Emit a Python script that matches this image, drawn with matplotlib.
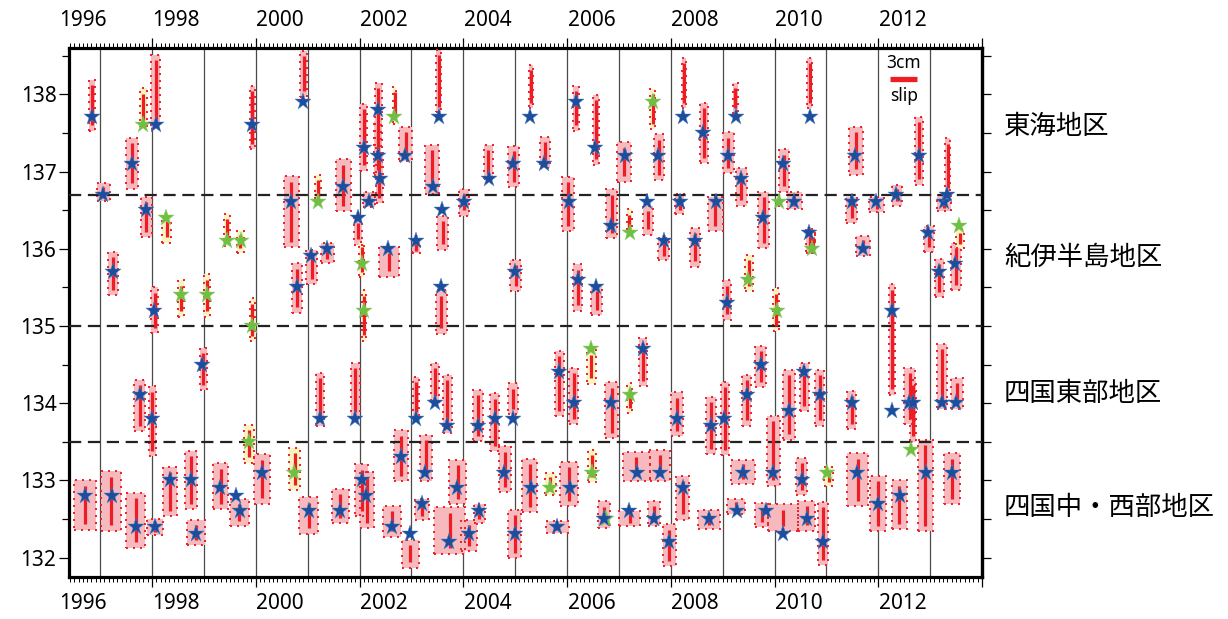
import numpy as np
import matplotlib
matplotlib.use("Agg")
import matplotlib.pyplot as plt
from matplotlib.patches import Rectangle
from matplotlib.ticker import MultipleLocator, NullFormatter

# ================== data ==================
# star: time (year), longitude, kind (b = blue, g = green)
ev_t = [1996.85, 1997.06, 1997.25, 1997.62, 1997.82, 1998.07, 1997.89, 1998.26, 1998.04, 1998.55,
        1999.06, 1998.97, 1997.76, 1998.00, 1996.70, 1997.22, 1997.69, 1998.05, 1998.34, 1998.75,
        1998.85, 1999.31, 1999.62, 1999.70, 1999.87, 1999.93, 1999.93, 2000.12, 2000.92, 2000.68,
        2000.79, 2001.06, 2001.37, 2001.20, 2001.69, 2001.23, 2001.92, 2000.74, 2001.02, 2001.63,
        2002.04, 2002.13, 2002.09, 2002.36, 2002.35, 2002.40, 2002.19, 2001.97, 2002.04, 2002.08,
        2002.55, 2002.67, 2002.88, 2003.09, 2003.42, 2003.53, 2003.59, 2003.58, 2004.01, 2004.49,
        2004.96, 2005.29, 2005.00, 2002.79, 2003.09, 2003.45, 2003.69, 2003.27, 2004.28, 2004.62,
        2004.96, 2004.79, 2003.88, 2005.30, 2003.21, 2002.62, 2002.98, 2003.73, 2004.12, 2004.31,
        2004.99, 2005.56, 2006.18, 2006.54, 2006.03, 2007.11, 2007.65, 2007.76, 2008.24, 2006.85,
        2007.21, 2007.55, 2007.86, 2008.17, 2006.21, 2006.56, 2005.85, 2006.13, 2006.47, 2006.85,
        2007.21, 2007.47, 2008.12, 2005.68, 2006.05, 2005.81, 2006.48, 2006.76, 2006.72, 2007.19,
        2007.35, 2007.79, 2007.68, 2007.97, 2008.23, 2008.63, 2009.25, 2009.10, 2009.35, 2008.87,
        2008.47, 2009.78, 2010.17, 2010.09, 2010.38, 2010.68, 2010.66, 2010.73, 2009.08, 2009.49,
        2010.04, 2008.78, 2009.03, 2009.46, 2009.74, 2010.28, 2010.57, 2010.87, 2008.74, 2009.40,
        2009.27, 2009.97, 2009.83, 2010.17, 2010.52, 2010.62, 2010.94, 2011.02, 2011.55, 2011.49,
        2011.70, 2011.95, 2012.35, 2012.78, 2013.27, 2013.32, 2012.96, 2013.18, 2013.48, 2013.56,
        2011.49, 2012.26, 2012.27, 2012.60, 2012.66, 2012.64, 2013.22, 2013.50, 2011.59, 2012.00,
        2012.41, 2012.92, 2013.43, 1999.45, 1999.71]
ev_lon = [137.7, 136.7, 135.7, 137.1, 137.6, 137.6, 136.5, 136.4, 135.2, 135.4,
          135.4, 134.5, 134.1, 133.8, 132.8, 132.8, 132.4, 132.4, 133.0, 133.0,
          132.3, 132.9, 132.8, 132.6, 133.5, 135.0, 137.6, 133.1, 137.9, 136.6,
          135.5, 135.9, 136.0, 136.6, 136.8, 133.8, 133.8, 133.1, 132.6, 132.6,
          133.0, 132.8, 137.3, 137.8, 137.2, 136.9, 136.6, 136.4, 135.8, 135.2,
          136.0, 137.7, 137.2, 136.1, 136.8, 137.7, 136.5, 135.5, 136.6, 136.9,
          137.1, 137.7, 135.7, 133.3, 133.8, 134.0, 133.7, 133.1, 133.7, 133.8,
          133.8, 133.1, 132.9, 132.9, 132.7, 132.4, 132.3, 132.2, 132.3, 132.6,
          132.3, 137.1, 137.9, 137.3, 136.6, 137.2, 137.9, 137.2, 137.7, 136.3,
          136.2, 136.6, 136.1, 136.6, 135.6, 135.5, 134.4, 134.0, 134.7, 134.0,
          134.1, 134.7, 133.8, 132.9, 132.9, 132.4, 133.1, 132.5, 132.5, 132.6,
          133.1, 133.1, 132.5, 132.2, 132.9, 137.5, 137.7, 137.2, 136.9, 136.6,
          136.1, 136.4, 137.1, 136.6, 136.6, 137.7, 136.2, 136.0, 135.3, 135.6,
          135.2, 133.7, 133.8, 134.1, 134.5, 133.9, 134.4, 134.1, 132.5, 133.1,
          132.6, 133.1, 132.6, 132.3, 133.0, 132.5, 132.2, 133.1, 137.2, 136.6,
          136.0, 136.6, 136.7, 137.2, 136.6, 136.7, 136.2, 135.7, 135.8, 136.3,
          134.0, 135.2, 133.9, 134.0, 134.0, 133.4, 134.0, 134.0, 133.1, 132.7,
          132.8, 133.1, 133.1, 136.1, 136.1]
ev_kind = list("bbbbgbbgbg" "gbbbbbbbbb" "bbbbggbbbb" "bbbgbbbgbb" "bbbbbbbbgg"
               "bgbbbbbbbb" "bbbbbbbbbb" "bbbbbbbbbb" "bbbbbbgbbb" "gbbbbbbbgb"
               "gbbgbbggbb" "bbbbbbbbbb" "bbbgbbbgbg" "gbbbbbbbbb" "bbbbbbbgbb"
               "bbbbbbbbbg" "bbbbbgbbbb" "bbbgg")

# time / longitude extent of each episode (nan = no box)
nan = np.nan
box_t0 = [1996.78, 1996.93, 1997.15, 1997.50, 1997.76, 1997.99, 1997.78, 1998.20, 1997.99, 1998.50,
          1999.00, 1998.92, 1997.66, 1997.94, 1996.49, 1997.01, 1997.50, 1997.91, 1998.21, 1998.63,
          1998.68, 1999.18, nan, 1999.50, 1999.78, 1999.88, 1999.88, 1999.96, 2000.86, 2000.54,
          2000.70, 2000.96, 2001.26, 2001.15, 2001.54, 2001.17, 2001.83, 2000.65, 2000.84, 2001.47,
          2001.92, 2002.01, 2002.01, 2002.29, 2002.28, 2002.32, 2002.06, 2001.90, 2001.99, 2002.04,
          2002.37, 2002.64, 2002.77, 2003.01, 2003.27, 2003.47, 2003.49, 2003.47, 2003.91, 2004.39,
          2004.87, 2005.26, 2004.90, 2002.66, 2003.04, 2003.37, 2003.60, 2003.16, 2004.19, 2004.52,
          2004.86, 2004.68, 2003.73, 2005.14, 2003.06, 2002.45, 2002.82, 2003.43, 2003.96, 2004.20,
          2004.87, 2005.47, 2006.12, 2006.50, 2005.90, 2006.97, 2007.60, 2007.67, 2008.21, 2006.76,
          2007.15, 2007.46, 2007.76, 2008.08, 2006.12, 2006.47, 2005.76, 2006.04, 2006.38, 2006.74,
          2007.15, 2007.39, 2008.00, 2005.58, 2005.87, 2005.60, 2006.40, nan, 2006.60, 2007.01,
          2007.08, 2007.59, 2007.57, 2007.85, 2008.10, 2008.56, 2009.19, 2009.01, 2009.25, 2008.72,
          2008.37, 2009.69, 2010.08, 2010.06, 2010.24, 2010.62, 2010.60, 2010.70, 2009.01, 2009.43,
          2009.98, 2008.67, 2008.97, 2009.38, 2009.63, 2010.17, 2010.49, 2010.78, 2008.53, 2009.17,
          2009.08, 2009.85, 2009.63, 2009.87, 2010.42, 2010.46, 2010.84, 2010.96, 2011.44, 2011.38,
          2011.57, 2011.83, 2012.26, 2012.71, 2013.13, 2013.29, 2012.89, 2013.09, 2013.40, 2013.50,
          2011.40, 2012.21, nan, 2012.50, 2012.61, nan, 2013.14, 2013.40, 2011.40, 2011.85,
          2012.26, 2012.77, 2013.27, 1999.38, 1999.63]
box_t1 = [1996.91, 1997.19, 1997.35, 1997.73, 1997.91, 1998.15, 1998.00, 1998.36, 1998.12, 1998.61,
          1999.12, 1999.06, 1997.87, 1998.07, 1996.92, 1997.41, 1997.87, 1998.22, 1998.49, 1998.87,
          1999.03, 1999.47, nan, 1999.87, 1999.96, 1999.99, 1999.98, 2000.28, 2000.99, 2000.83,
          2000.89, 2001.19, 2001.50, 2001.26, 2001.83, 2001.31, 2002.00, 2000.86, 2001.20, 2001.79,
          2002.17, 2002.27, 2002.15, 2002.43, 2002.42, 2002.45, 2002.30, 2002.04, 2002.09, 2002.13,
          2002.76, 2002.71, 2003.01, 2003.17, 2003.54, 2003.58, 2003.71, 2003.69, 2004.12, 2004.58,
          2005.08, 2005.35, 2005.12, 2002.93, 2003.15, 2003.53, 2003.79, 2003.40, 2004.38, 2004.69,
          2005.06, 2004.92, 2004.05, 2005.43, 2003.33, 2002.79, 2003.14, 2004.04, 2004.26, 2004.41,
          2005.12, 2005.68, 2006.24, 2006.61, 2006.14, 2007.24, 2007.70, 2007.86, 2008.29, 2006.96,
          2007.25, 2007.65, 2007.97, 2008.26, 2006.29, 2006.67, 2005.94, 2006.22, 2006.56, 2006.98,
          2007.26, 2007.54, 2008.24, 2005.78, 2006.22, 2006.03, 2006.56, nan, 2006.83, 2007.40,
          2007.59, 2007.99, 2007.79, 2008.10, 2008.36, 2008.71, 2009.30, 2009.21, 2009.47, 2009.00,
          2008.56, 2009.90, 2010.28, 2010.12, 2010.52, 2010.73, 2010.78, 2010.78, 2009.16, 2009.59,
          2010.09, 2008.88, 2009.12, 2009.54, 2009.83, 2010.40, 2010.66, 2010.96, 2008.95, 2009.62,
          2009.44, 2010.10, 2009.88, 2010.46, 2010.63, 2010.78, 2011.04, 2011.13, 2011.70, 2011.59,
          2011.84, 2012.11, 2012.46, 2012.86, 2013.41, 2013.38, 2013.07, 2013.27, 2013.59, 2013.65,
          2011.57, 2012.32, nan, 2012.71, 2012.72, nan, 2013.32, 2013.63, 2011.81, 2012.15,
          2012.55, 2013.05, 2013.58, 1999.51, 1999.78]
box_lo = [137.53, 136.62, 135.40, 136.78, 137.58, 137.55, 136.15, 136.08, 134.91, 135.12,
          135.12, 134.17, 133.64, 133.31, 132.36, 132.35, 132.13, 132.29, 132.54, 132.63,
          132.16, 132.63, nan, 132.41, 133.23, 134.80, 137.29, 132.70, 137.97, 136.02,
          135.17, 135.54, 135.81, 136.58, 136.49, 133.71, 133.82, 132.87, 132.31, 132.45,
          132.54, 132.38, 137.01, 137.30, 136.95, 136.59, 136.54, 136.05, 135.63, 134.81,
          135.64, 137.62, 137.14, 135.94, 136.71, 137.77, 135.99, 134.90, 136.43, 136.90,
          136.80, 137.82, 135.45, 132.99, 133.82, 134.02, 133.62, 132.99, 133.51, 133.38,
          133.86, 132.85, 132.69, 132.59, 132.49, 132.27, 131.87, 132.05, 132.08, 132.45,
          131.99, 137.04, 137.53, 137.09, 136.23, 136.87, 137.55, 136.89, 137.82, 136.14,
          136.16, 136.18, 135.85, 136.45, 135.20, 135.14, 133.83, 133.73, 134.25, 133.55,
          133.87, 134.22, 133.57, 132.81, 132.67, 132.32, 132.98, nan, 132.39, 132.41,
          132.99, 132.99, 132.41, 131.89, 132.49, 137.11, 137.75, 136.98, 136.56, 136.23,
          135.77, 136.01, 136.74, 136.55, 136.51, 137.82, 135.94, 135.95, 135.08, 135.45,
          134.93, 133.34, 133.33, 133.71, 134.21, 133.53, 133.90, 133.71, 132.37, 132.96,
          132.56, 132.93, 132.40, 132.34, 132.81, 132.35, 131.90, 132.93, 136.96, 136.33,
          135.90, 136.48, 136.56, 136.83, 136.49, 136.72, 135.96, 135.37, 135.46, 136.01,
          133.66, 134.11, nan, 133.73, 133.50, nan, 133.93, 133.92, 132.67, 132.34,
          132.37, 132.34, 132.69, 136.03, 135.95]
box_hi = [138.19, 136.85, 135.96, 137.44, 138.08, 138.51, 136.67, 136.43, 135.50, 135.59,
          135.67, 134.72, 134.30, 134.22, 133.00, 133.12, 132.84, 132.50, 133.18, 133.38,
          132.49, 133.22, nan, 132.76, 133.72, 135.36, 138.11, 133.34, 138.56, 136.94,
          135.81, 135.99, 136.08, 136.96, 137.16, 134.39, 134.52, 133.42, 132.78, 132.89,
          133.21, 133.11, 137.88, 138.15, 137.65, 137.25, 136.73, 136.40, 136.09, 135.46,
          136.02, 138.10, 137.58, 136.12, 137.35, 138.58, 136.43, 135.46, 136.78, 137.35,
          137.33, 138.38, 135.86, 133.65, 134.34, 134.52, 134.37, 133.59, 134.17, 134.13,
          134.26, 133.44, 133.27, 133.28, 132.76, 132.67, 132.23, 132.65, 132.49, 132.70,
          132.62, 137.45, 138.11, 137.99, 136.93, 137.38, 138.07, 137.48, 138.47, 136.77,
          136.51, 136.56, 136.14, 136.71, 135.80, 135.52, 134.68, 134.46, 134.70, 134.27,
          134.26, 134.84, 134.14, 133.10, 133.24, 132.48, 133.40, nan, 132.73, 132.60,
          133.37, 133.40, 132.73, 132.43, 133.06, 137.89, 138.15, 137.51, 137.04, 136.67,
          136.27, 136.74, 137.29, 136.68, 136.73, 138.47, 136.26, 136.20, 135.59, 135.92,
          135.49, 134.08, 134.28, 134.37, 134.74, 134.43, 134.52, 134.43, 132.62, 133.27,
          132.76, 133.84, 132.71, 132.69, 133.29, 132.74, 132.72, 133.18, 137.58, 136.67,
          136.16, 136.67, 136.82, 137.71, 136.69, 137.43, 136.29, 135.87, 136.08, 136.25,
          134.16, 135.54, nan, 134.46, 134.30, nan, 134.77, 134.33, 133.35, 133.06,
          133.00, 133.53, 133.35, 136.45, 136.23]

region_bounds = [136.7, 135.0, 133.5]
region_names = ["東海地区", "紀伊半島地区", "四国東部地区", "四国中・西部地区"]
region_label_lon = [137.58, 135.89, 134.12, 132.65]
year_labels = list(range(1996, 2013, 2))

# ================== style ==================
RED = '#ee1c25'
PINK = '#f6babe'
YELLOW = '#f7f3c0'
BLUE = '#1b4f9d'
GREEN = '#6fbf43'
FONT = ['Noto Sans', 'DejaVu Sans']
JFONT = ['Noto Sans CJK JP', 'DejaVu Sans']

plt.rcParams['font.family'] = FONT
fig = plt.figure(figsize=(12.28, 6.19), dpi=100)
ax = fig.add_axes([0.0562, 0.0679, 0.7435, 0.8546])
ax.set_xlim(1996.4, 2014.0)
ax.set_ylim(131.75, 138.6)

# yearly grid
for yr in range(1997, 2014):
    ax.axvline(yr, color='#4a4a4a', linewidth=0.9, zorder=1)

for lo_b in region_bounds:
    ax.axhline(lo_b, color='#222222', linewidth=1.6, linestyle=(0, (5.5, 3)), zorder=3.5)

for t, lon, k, t0, t1, lo, hi in zip(ev_t, ev_lon, ev_kind, box_t0, box_t1, box_lo, box_hi):
    if not np.isnan(t0):
        fc = PINK if k == 'b' else YELLOW
        ax.add_patch(Rectangle((t0, lo), t1 - t0, hi - lo, facecolor=fc, edgecolor='none', zorder=2))
        ax.add_patch(Rectangle((t0, lo), t1 - t0, hi - lo, facecolor='none', edgecolor=RED,
                               linewidth=1.4, linestyle=(0, (1, 2.6)), zorder=3))
        inset = min(0.07, 0.2 * (hi - lo))
        xc = (t0 + t1) / 2
        ax.plot([xc, xc], [lo + inset, hi - inset], color=RED, linewidth=2.3,
                solid_capstyle='butt', zorder=4)

ev_t_a = np.array(ev_t)
ev_lon_a = np.array(ev_lon)
is_b = np.array([k == 'b' for k in ev_kind])
ax.plot(ev_t_a[~is_b], ev_lon_a[~is_b], linestyle='none', marker='*', markersize=12.5,
        color=GREEN, markeredgecolor='#8fd06a', markeredgewidth=0.3, zorder=5)
ax.plot(ev_t_a[is_b], ev_lon_a[is_b], linestyle='none', marker='*', markersize=12.5,
        color=BLUE, markeredgecolor='#4d7cc4', markeredgewidth=0.3, zorder=5.1)

# slip scale
ax.text(2012.49, 138.40, "3cm", ha='center', va='center', fontsize=12.5, zorder=6)
ax.plot([2012.23, 2012.74], [138.2, 138.2], color=RED, linewidth=3.8, solid_capstyle='butt', zorder=6)
ax.text(2012.49, 137.98, "slip", ha='center', va='center', fontsize=12.5, zorder=6)

# axes, ticks
for s in ax.spines.values():
    s.set_linewidth(2.3)
ax.xaxis.set_major_locator(MultipleLocator(2))
ax.xaxis.set_minor_locator(MultipleLocator(1 / 12))
ax.xaxis.set_major_formatter(NullFormatter())
ax.yaxis.set_major_locator(MultipleLocator(1))
ax.yaxis.set_minor_locator(MultipleLocator(0.5))
ax.tick_params(axis='x', which='major', direction='out', top=True, bottom=True, length=7.5, width=0.9)
ax.tick_params(axis='x', which='minor', direction='out', top=True, bottom=True, length=3.5, width=0.7)
ax.tick_params(axis='y', which='major', direction='out', left=True, right=False, length=7, width=0.9,
               labelsize=15, pad=2)
ax.tick_params(axis='y', which='minor', direction='out', left=True, right=False, length=5, width=0.9)
sec = ax.secondary_yaxis('right')
sec.yaxis.set_major_locator(MultipleLocator(0.5))
sec.yaxis.set_major_formatter(NullFormatter())
sec.tick_params(direction='out', length=6.5, width=0.9)
sec.spines['right'].set_linewidth(2.3)

# year labels sit in the middle of each (visible) year
x0, x1 = ax.get_xlim()
for yr in year_labels:
    xc = (max(yr, x0) + min(yr + 1, x1)) / 2 - 0.03
    ax.text(xc, 1.032, str(yr), transform=ax.get_xaxis_transform(), ha='center', va='bottom',
            fontsize=15)
    ax.text(xc, -0.03, str(yr), transform=ax.get_xaxis_transform(), ha='center', va='top',
            fontsize=15)

for name, lon in zip(region_names, region_label_lon):
    ax.text(1.024, lon, name, transform=ax.get_yaxis_transform(), fontsize=19, family=JFONT,
            va='center', ha='left')

fig.savefig("out.png", dpi=100)
